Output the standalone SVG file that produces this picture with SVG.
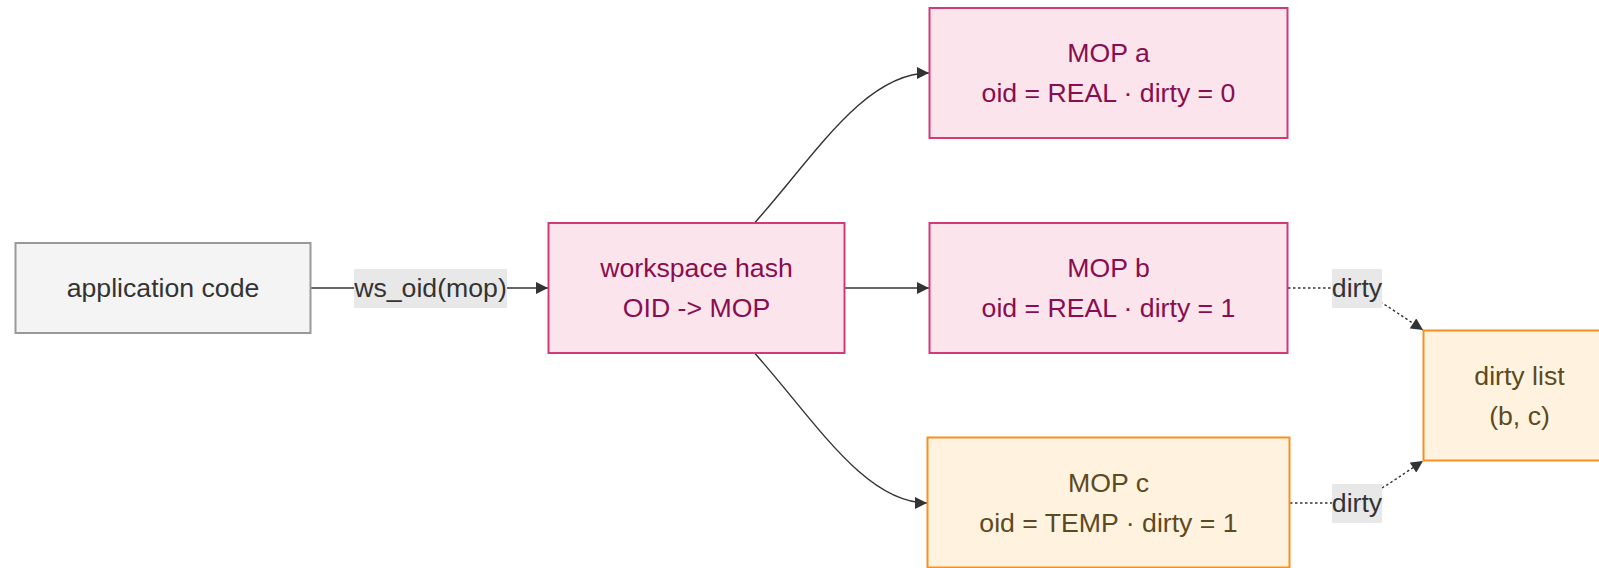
<svg xmlns="http://www.w3.org/2000/svg" width="1599" height="568" viewBox="0 0 1599 568">
<style>
text{font-family:"Liberation Sans",Arial,sans-serif;font-size:26.67px;text-anchor:middle;dominant-baseline:central}
.gray rect{fill:#f4f4f4;stroke:#999;stroke-width:2}
.gray text{fill:#333}
.pink rect{fill:#fce4ec;stroke:#d03a78;stroke-width:2}
.pink text{fill:#880e4f}
.orange rect{fill:#fff3e0;stroke:#f7901e;stroke-width:2}
.orange text{fill:#5d4a1e}
.edge{fill:none;stroke:#333;stroke-width:1.4}
.dot{stroke-dasharray:2.5 2.5}
.lbl rect{fill:#e8e8e8}
.lbl text{fill:#333}
</style>
<defs>
<marker id="arr" viewBox="0 0 10 10" refX="10" refY="5" markerUnits="userSpaceOnUse" markerWidth="13" markerHeight="12" orient="auto">
<path d="M0,0 L10,5 L0,10 z" fill="#333"/>
</marker>
</defs>
<rect width="1599" height="568" fill="#fff"/>
<g id="connectors">
<path class="edge" d="M311,288 L548,288" marker-end="url(#arr)"/>
<path class="edge" d="M755,222.5 C815,155 865,73 929,73" marker-end="url(#arr)"/>
<path class="edge" d="M844.5,288 L929,288" marker-end="url(#arr)"/>
<path class="edge" d="M755,353.5 C815,421 865,503 927,503" marker-end="url(#arr)"/>
<path class="edge dot" d="M1288,288 L1335,288 C1365,288 1385,305 1423,330" marker-end="url(#arr)"/>
<path class="edge dot" d="M1290,503 L1335,503 C1365,503 1385,486 1423,461" marker-end="url(#arr)"/>
<g class="lbl">
<rect x="354" y="269" width="153" height="39"/>
<text x="430.5" y="288">ws_oid(mop)</text>
<rect x="1332" y="269" width="50" height="39"/>
<text x="1357" y="288">dirty</text>
<rect x="1332" y="484" width="50" height="39"/>
<text x="1357" y="503">dirty</text>
</g>
</g>
<g id="app" class="gray">
<rect x="15.5" y="243" width="295" height="90"/>
<text x="163" y="288">application code</text>
</g>
<g id="ws" class="pink">
<rect x="548.5" y="223" width="296" height="130"/>
<text x="696.5" y="268">workspace hash</text>
<text x="696.5" y="308">OID -&gt; MOP</text>
</g>
<g id="mopa" class="pink">
<rect x="929.5" y="8" width="358" height="130"/>
<text x="1108.5" y="53">MOP a</text>
<text x="1108.5" y="93">oid = REAL · dirty = 0</text>
</g>
<g id="mopb" class="pink">
<rect x="929.5" y="223" width="358" height="130"/>
<text x="1108.5" y="268">MOP b</text>
<text x="1108.5" y="308">oid = REAL · dirty = 1</text>
</g>
<g id="mopc" class="orange">
<rect x="927.5" y="437.5" width="362" height="130"/>
<text x="1108.5" y="482.5">MOP c</text>
<text x="1108.5" y="522.5">oid = TEMP · dirty = 1</text>
</g>
<g id="dirty" class="orange">
<rect x="1423.5" y="330.5" width="192" height="130"/>
<text x="1519.5" y="375.5">dirty list</text>
<text x="1519.5" y="415.5">(b, c)</text>
</g>
</svg>
